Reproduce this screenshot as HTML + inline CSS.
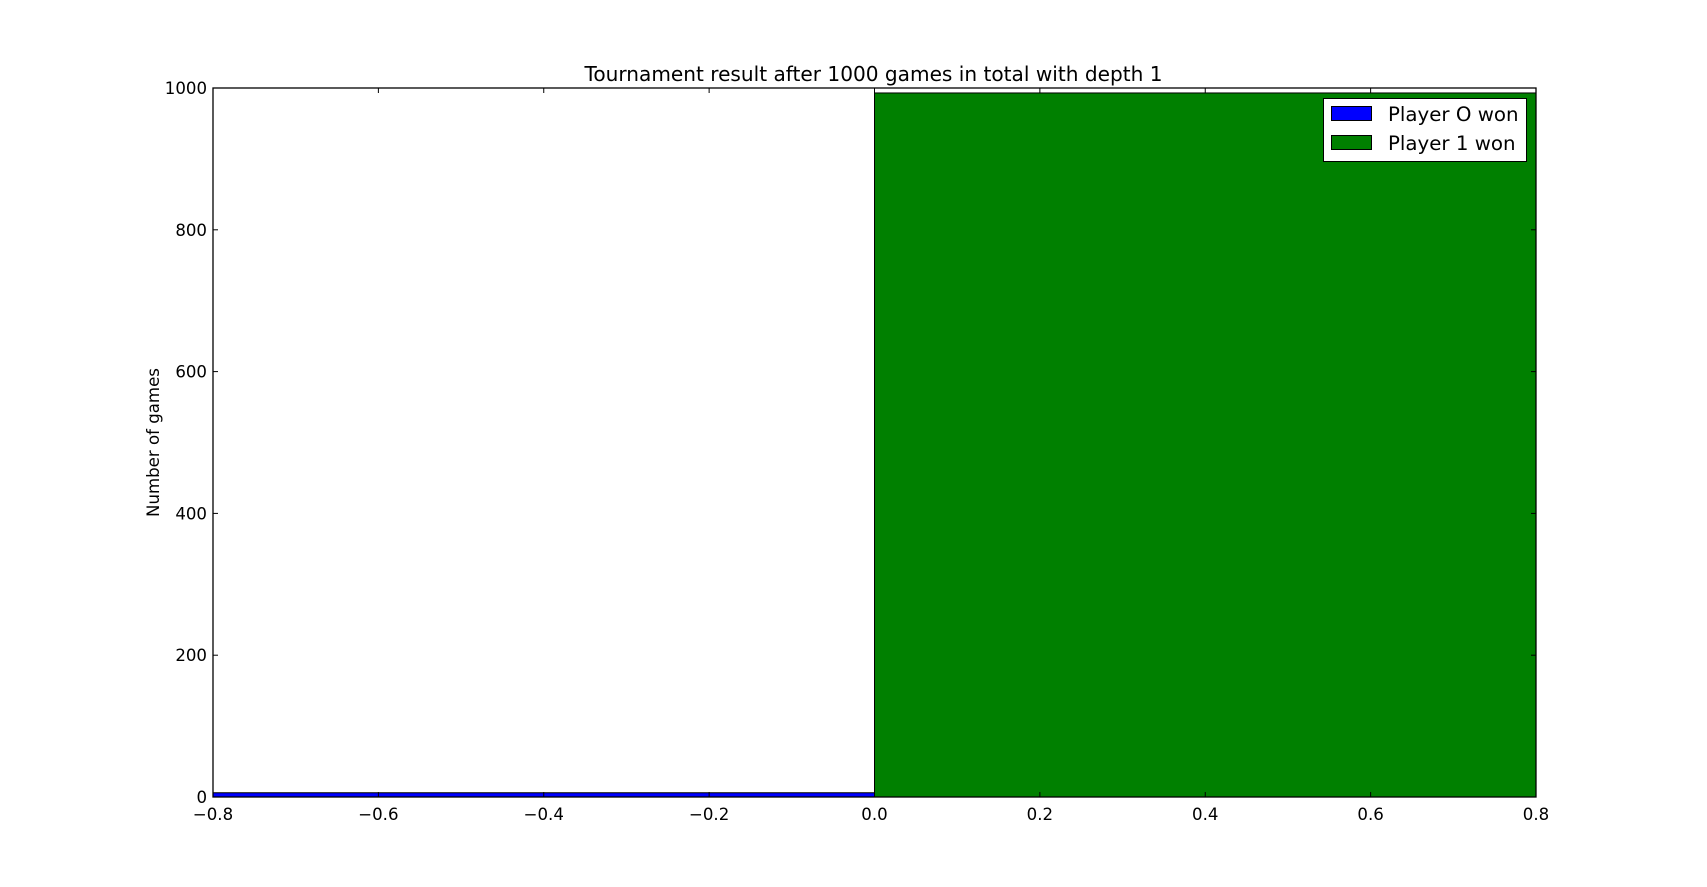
<!DOCTYPE html>
<html><head><meta charset="utf-8"><style>
html,body{margin:0;padding:0;background:#fff;}
svg{display:block;font-family:"DejaVu Sans","Liberation Sans",sans-serif;}
</style></head><body>
<svg id="chart" width="1707" height="887"></svg>
<script>
const categories = ["Player O won", "Player 1 won"];
const binStarts = [-0.8, 0.0];
const binEnds = [0.0, 0.8];
const values = [6, 993];
const colors = ["#0000ff", "#008000"];
const xTicks = [-0.8, -0.6, -0.4, -0.2, 0.0, 0.2, 0.4, 0.6, 0.8];
const xTickLabels = ["\u22120.8","\u22120.6","\u22120.4","\u22120.2","0.0","0.2","0.4","0.6","0.8"];
const yTicks = [0, 200, 400, 600, 800, 1000];

const NS = "http://www.w3.org/2000/svg";
const svg = document.getElementById("chart");
const L = 213, R = 1536, T = 88, B = 797;
const xMin = -0.8, xMax = 0.8, yMin = 0, yMax = 1000;
const xs = v => L + (v - xMin) / (xMax - xMin) * (R - L);
const ys = v => B - (v - yMin) / (yMax - yMin) * (B - T);
function mk(tag, attrs, parent) {
  const e = document.createElementNS(NS, tag);
  for (const k in attrs) e.setAttribute(k, attrs[k]);
  (parent || svg).appendChild(e);
  return e;
}
for (let i = 0; i < values.length; i++) {
  const r = mk("rect", {x: xs(binStarts[i]), y: ys(values[i]), width: xs(binEnds[i]) - xs(binStarts[i]), height: ys(0) - ys(values[i]), fill: colors[i], stroke: "#000", "stroke-width": 1});
  
  
}
const fr = mk("rect", {x: L, y: T, width: R - L, height: B - T, fill: "none", stroke: "#000", "stroke-width": 1.3});


xTicks.forEach((v, i) => {
  const x = xs(v);
  mk("line", {x1: x, x2: x, y1: B, y2: B - 5, stroke: "#000"});
  mk("line", {x1: x, x2: x, y1: T, y2: T + 5, stroke: "#000"});
  const t = mk("text", {x: x, y: B + 23, "text-anchor": "middle", "font-size": 16.6});
  t.textContent = xTickLabels[i];
  
  
});
yTicks.forEach(v => {
  const y = ys(v);
  mk("line", {x1: L, x2: L + 5, y1: y, y2: y, stroke: "#000"});
  mk("line", {x1: R, x2: R - 5, y1: y, y2: y, stroke: "#000"});
  const t = mk("text", {x: L - 6, y: y + 6, "text-anchor": "end", "font-size": 16.6});
  t.textContent = String(v);
  
  
});
const title = mk("text", {x: (L + R) / 2 - 1, y: 81, "text-anchor": "middle", "font-size": 20.1});
title.textContent = "Tournament result after 1000 games in total with depth 1";


const yl = mk("text", {x: 0, y: 0, "text-anchor": "middle", "font-size": 16.6, transform: "translate(159," + ((T + B) / 2) + ") rotate(-90)"});
yl.textContent = "Number of games";


const lg = mk("g", {});


mk("rect", {x: 1323.5, y: 98.5, width: 203, height: 63, fill: "#fff", stroke: "#000", "stroke-width": 1}, lg);
categories.forEach((c, i) => {
  const y = 106 + i * 29;
  const sw = mk("rect", {x: 1331.5, y: y + 0.5, width: 40, height: 14, fill: colors[i], stroke: "#000"}, lg);
  
  
  const t = mk("text", {x: 1388, y: y + 15, "font-size": 19.8}, lg);
  t.textContent = c;
  
  
});
</script>
</body></html>
